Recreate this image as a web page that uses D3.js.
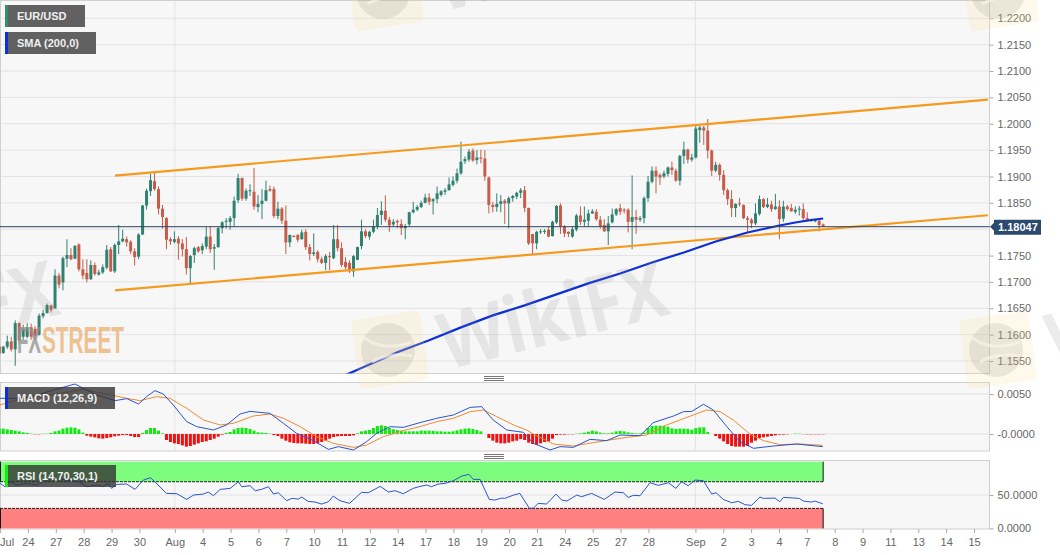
<!DOCTYPE html>
<html>
<head>
<meta charset="utf-8">
<title>EUR/USD</title>
<script src="https://cdn.jsdelivr.net/npm/d3@7/dist/d3.min.js"></script>
<style>
	html, body { margin: 0; padding: 0; background: #fff; }
	svg { display: block; font-family: "Liberation Sans", Arial, sans-serif; }
	.axis text { fill: #666; font-size: 11px; }
	.axis line { stroke: #aaa; }
	.axis path { display: none; }
</style>
</head>
<body>
<div id="chart"></div>
<script>

// candles
var opens = [
	1.1578,1.1565,1.1577,1.1587,1.1572,1.1622,1.1596,1.1596,1.1614,1.1611,
	1.1600,1.1635,1.1641,1.1655,1.1650,1.1712,1.1699,1.1744,1.1751,1.1744,
	1.1771,1.1724,1.1717,1.1705,1.1732,1.1714,1.1718,1.1727,1.1762,1.1720,
	1.1770,1.1777,1.1781,1.1776,1.1758,1.1748,1.1790,1.1845,1.1872,1.1891,
	1.1876,1.1839,1.1821,1.1781,1.1776,1.1782,1.1773,1.1762,1.1726,1.1751,
	1.1766,1.1760,1.1767,1.1786,1.1763,1.1766,1.1802,1.1814,1.1814,1.1821,
	1.1855,1.1897,1.1858,1.1873,1.1871,1.1842,1.1848,1.1854,1.1876,1.1876,
	1.1825,1.1839,1.1816,1.1775,1.1787,1.1789,1.1781,1.1795,1.1766,1.1753,
	1.1757,1.1743,1.1736,1.1749,1.1745,1.1781,1.1764,1.1738,1.1736,1.1720,
	1.1742,1.1768,1.1796,1.1786,1.1795,1.1806,1.1827,1.1835,1.1818,1.1809,
	1.1816,1.1810,1.1802,1.1809,1.1832,1.1837,1.1842,1.1850,1.1860,1.1853,
	1.1857,1.1865,1.1871,1.1874,1.1884,1.1892,1.1906,1.1929,1.1932,1.1949,
	1.1931,1.1936,1.1934,1.1898,1.1846,1.1842,1.1848,1.1854,1.1849,1.1859,
	1.1862,1.1869,1.1874,1.1840,1.1791,1.1773,1.1794,1.1795,1.1799,1.1787,
	1.1813,1.1845,1.1805,1.1795,1.1786,1.1799,1.1826,1.1814,1.1816,1.1830,
	1.1833,1.1818,1.1808,1.1796,1.1813,1.1828,1.1840,1.1837,1.1837,1.1814,
	1.1823,1.1818,1.1821,1.1859,1.1890,1.1911,1.1903,1.1900,1.1905,1.1917,
	1.1911,1.1892,1.1939,1.1951,1.1932,1.1936,1.1988,1.1993,1.1987,1.1949,
	1.1911,1.1922,1.1903,1.1874,1.1857,1.1840,1.1849,1.1846,1.1821,1.1818,
	1.1811,1.1829,1.1857,1.1842,1.1847,1.1838,1.1843,1.1820,1.1843,1.1840,
	1.1833,1.1837,1.1838,1.1821,1.1816,1.1815,1.1816,1.1809
];
var highs = [
	1.1580,1.1579,1.1598,1.1596,1.1627,1.1623,1.1619,1.1622,1.1621,1.1616,
	1.1640,1.1647,1.1659,1.1657,1.1724,1.1717,1.1748,1.1781,1.1764,1.1770,
	1.1773,1.1743,1.1743,1.1741,1.1737,1.1723,1.1733,1.1770,1.1766,1.1773,
	1.1808,1.1799,1.1786,1.1779,1.1764,1.1792,1.1846,1.1877,1.1905,1.1907,
	1.1881,1.1846,1.1823,1.1785,1.1796,1.1787,1.1781,1.1785,1.1751,1.1767,
	1.1768,1.1773,1.1804,1.1805,1.1772,1.1805,1.1815,1.1821,1.1825,1.1862,
	1.1905,1.1898,1.1877,1.1885,1.1916,1.1865,1.1876,1.1892,1.1883,1.1881,
	1.1852,1.1842,1.1845,1.1790,1.1789,1.1791,1.1799,1.1800,1.1772,1.1792,
	1.1760,1.1748,1.1753,1.1757,1.1808,1.1808,1.1775,1.1747,1.1741,1.1751,
	1.1767,1.1818,1.1800,1.1797,1.1818,1.1840,1.1853,1.1864,1.1823,1.1819,
	1.1818,1.1819,1.1810,1.1833,1.1852,1.1846,1.1854,1.1867,1.1868,1.1859,
	1.1881,1.1874,1.1878,1.1898,1.1900,1.1915,1.1966,1.1938,1.1952,1.1953,
	1.1950,1.1951,1.1950,1.1900,1.1852,1.1868,1.1865,1.1857,1.1862,1.1865,
	1.1871,1.1878,1.1882,1.1841,1.1791,1.1797,1.1800,1.1800,1.1805,1.1816,
	1.1846,1.1849,1.1808,1.1796,1.1805,1.1829,1.1843,1.1843,1.1837,1.1838,
	1.1838,1.1825,1.1819,1.1825,1.1839,1.1840,1.1848,1.1840,1.1840,1.1902,
	1.1837,1.1825,1.1862,1.1901,1.1919,1.1919,1.1906,1.1911,1.1919,1.1928,
	1.1915,1.1941,1.1966,1.1953,1.1943,1.1997,1.1996,1.1996,1.2009,1.1951,
	1.1928,1.1925,1.1912,1.1877,1.1874,1.1849,1.1859,1.1847,1.1825,1.1821,
	1.1849,1.1864,1.1859,1.1859,1.1854,1.1867,1.1855,1.1854,1.1846,1.1848,
	1.1843,1.1844,1.1849,1.1832,1.1820,1.1820,1.1821,1.1811
];
var lows = [
	1.1561,1.1564,1.1573,1.1568,1.1541,1.1584,1.1590,1.1593,1.1590,1.1590,
	1.1598,1.1631,1.1640,1.1642,1.1649,1.1688,1.1684,1.1728,1.1741,1.1743,
	1.1720,1.1705,1.1699,1.1704,1.1712,1.1712,1.1715,1.1724,1.1719,1.1717,
	1.1753,1.1775,1.1767,1.1753,1.1731,1.1743,1.1789,1.1837,1.1863,1.1873,
	1.1828,1.1801,1.1762,1.1770,1.1773,1.1742,1.1748,1.1714,1.1696,1.1736,
	1.1755,1.1753,1.1762,1.1755,1.1723,1.1765,1.1792,1.1801,1.1799,1.1805,
	1.1850,1.1854,1.1854,1.1863,1.1837,1.1832,1.1819,1.1853,1.1871,1.1821,
	1.1819,1.1810,1.1753,1.1766,1.1785,1.1775,1.1780,1.1761,1.1741,1.1749,
	1.1737,1.1734,1.1722,1.1722,1.1743,1.1758,1.1728,1.1724,1.1717,1.1710,
	1.1741,1.1762,1.1783,1.1780,1.1792,1.1800,1.1808,1.1814,1.1795,1.1805,
	1.1802,1.1789,1.1781,1.1806,1.1830,1.1834,1.1840,1.1849,1.1846,1.1828,
	1.1849,1.1862,1.1865,1.1873,1.1881,1.1887,1.1903,1.1924,1.1928,1.1928,
	1.1923,1.1925,1.1892,1.1830,1.1832,1.1833,1.1832,1.1810,1.1802,1.1852,
	1.1857,1.1859,1.1832,1.1770,1.1753,1.1762,1.1791,1.1791,1.1785,1.1786,
	1.1810,1.1791,1.1785,1.1785,1.1784,1.1796,1.1808,1.1805,1.1805,1.1829,
	1.1816,1.1801,1.1795,1.1770,1.1811,1.1825,1.1827,1.1830,1.1794,1.1762,
	1.1791,1.1814,1.1811,1.1852,1.1887,1.1868,1.1884,1.1897,1.1900,1.1903,
	1.1890,1.1883,1.1924,1.1925,1.1928,1.1934,1.1964,1.1960,1.1934,1.1901,
	1.1908,1.1892,1.1865,1.1846,1.1823,1.1823,1.1843,1.1819,1.1794,1.1802,
	1.1808,1.1826,1.1840,1.1840,1.1833,1.1837,1.1781,1.1814,1.1835,1.1833,
	1.1829,1.1826,1.1814,1.1815,1.1814,1.1813,1.1796,1.1804
];
var closes = [
	1.1564,1.1577,1.1587,1.1572,1.1622,1.1589,1.1611,1.1614,1.1596,1.1598,
	1.1636,1.1641,1.1656,1.1647,1.1712,1.1695,1.1745,1.1751,1.1743,1.1768,
	1.1724,1.1712,1.1705,1.1732,1.1715,1.1718,1.1728,1.1761,1.1720,1.1770,
	1.1777,1.1782,1.1775,1.1758,1.1747,1.1790,1.1845,1.1873,1.1893,1.1876,
	1.1839,1.1823,1.1780,1.1777,1.1781,1.1773,1.1762,1.1726,1.1749,1.1764,
	1.1758,1.1768,1.1786,1.1762,1.1766,1.1802,1.1813,1.1816,1.1821,1.1854,
	1.1897,1.1858,1.1873,1.1874,1.1843,1.1848,1.1854,1.1874,1.1873,1.1825,
	1.1839,1.1816,1.1775,1.1789,1.1786,1.1780,1.1794,1.1766,1.1753,1.1756,
	1.1743,1.1736,1.1749,1.1748,1.1781,1.1764,1.1732,1.1728,1.1720,1.1749,
	1.1766,1.1796,1.1787,1.1795,1.1806,1.1827,1.1835,1.1818,1.1807,1.1814,
	1.1813,1.1802,1.1806,1.1832,1.1837,1.1842,1.1850,1.1860,1.1852,1.1857,
	1.1868,1.1872,1.1874,1.1885,1.1892,1.1906,1.1928,1.1933,1.1947,1.1930,
	1.1936,1.1934,1.1900,1.1846,1.1842,1.1848,1.1853,1.1849,1.1859,1.1863,
	1.1869,1.1874,1.1840,1.1773,1.1773,1.1795,1.1796,1.1797,1.1786,1.1814,
	1.1844,1.1806,1.1792,1.1791,1.1800,1.1826,1.1814,1.1818,1.1830,1.1834,
	1.1819,1.1806,1.1796,1.1811,1.1828,1.1838,1.1833,1.1835,1.1814,1.1823,
	1.1818,1.1821,1.1859,1.1890,1.1911,1.1900,1.1898,1.1906,1.1917,1.1912,
	1.1892,1.1939,1.1951,1.1932,1.1936,1.1991,1.1993,1.1987,1.1949,1.1911,
	1.1922,1.1903,1.1874,1.1857,1.1840,1.1848,1.1848,1.1821,1.1818,1.1811,
	1.1830,1.1857,1.1842,1.1847,1.1838,1.1843,1.1819,1.1843,1.1838,1.1834,
	1.1837,1.1839,1.1821,1.1816,1.1818,1.1818,1.1808,1.1805
];

var lastPrice = 1.18047;
var lastPriceText = '1.18047';

// 200 period sma, candle index and price
var smaIndex = [84,92,100,108,116,124,132,140,148,156,164,172,176,180,184,188,192,196,200,204,207];
var smaValues = [1.15134,1.15400,1.15665,1.15892,1.16138,1.16365,1.16555,1.16763,1.16972,1.17161,1.17369,1.17559,1.17663,1.17767,1.17852,1.17937,1.18004,1.18070,1.18127,1.18174,1.18203];

// hand drawn channel
var trendIndex = [29.07,248.4];
var trendUpper = [1.19017,1.20456];
var trendLower = [1.16839,1.18265];

// macd, in units of 0.0001
var macdIndex = [0.2,4.4,8.6,13.6,19,24.5,29.1,32,35,37,39.1,41.2,43.7,47.1,49.6,53.8,57.1,60.5,63,68,71.4,74.7,78.9,82.7,85.2,89,92.3,94.8,98.2,101.5,105.7,109.9,114.1,118.3,121.2,124.1,127.5,131.7,134.2,138.4,140.9,144.2,148.4,152.6,156,161,164.3,169.4,171.9,174,176.9,179.4,182.8,186.1,189.5,194.5,200.3,206.9];
var macdValues = [44.6,44.6,47.5,55,62.5,48.8,41.7,44.2,37.5,46.7,54.2,50,36.3,15.4,9.2,5,11.3,25,28.3,25.8,13.3,0.8,-8.3,-19.2,-15.8,-20,-9.6,0.8,9.2,8.3,14.2,19.6,23.8,33.3,34.2,17.5,5,2.1,-11.7,-20,-15.8,-16.7,-6.7,-8.3,-1.3,-2.1,14.2,22.5,27.9,28.3,37.1,30,9.2,-9.6,-17.9,-15,-12.5,-15.8];
var signalIndex = [0.2,4.4,10.2,15.3,21.1,26.1,32,35.4,39.5,42.9,47.1,51.3,55.5,58.8,63.8,68,71.4,75.6,79.7,83.9,89,92.3,96.5,101.5,105.7,109.9,114.1,118.3,121.6,125,129.2,132.5,134.6,139.2,144.2,149.3,153.4,157.6,162.6,167.7,174.4,177.7,181.1,184.4,188.6,192,196.2,201.2,206.9];
var signalValues = [36.3,42.5,46.7,50.8,55.8,50.8,44.6,41.7,46.7,44.6,32.1,17.5,11.3,13.3,22.5,25,19.6,9.2,-3.3,-11.7,-16.7,-13.8,-3.3,4.2,9.2,15.4,19.6,27.9,30,21.7,11.3,5,-1.3,-12.5,-15,-10.8,-7.5,-4.2,-1.3,11.3,23.8,30,27.9,17.5,0,-8.3,-13.3,-12.5,-14.2];
var histValues = [
	6.7,6.7,5.8,5,4.2,3.3,2.1,1.3,0.4,-0.4,
	-0.4,0.4,0.4,1.3,3.3,4.2,6.7,7.9,8.3,7.9,
	5.8,1.7,-2.1,-3.3,-4.2,-5.4,-5.8,-5,-4.2,-2.9,
	-2.1,-1.3,-1.3,-2.5,-3.8,-3.8,1.3,5,7.5,7.5,
	4.2,0.8,-7.5,-10,-11.7,-12.5,-14.2,-15.8,-15,-13.3,
	-11.7,-10,-9.2,-7.5,-5.8,-3.3,-0.8,1.3,2.5,5.8,
	7.5,7.9,7.5,6.3,4.2,2.1,1.7,1.3,0.4,-1.3,
	-2.5,-5.8,-8.3,-10.4,-11.3,-11.7,-11.7,-12.1,-12.5,-12.5,
	-11.7,-10,-8.3,-5.8,-3.8,-2.9,-2.5,-2.5,-2.5,-1.7,
	0.8,3.3,4.2,5,7.5,10,10.8,10,7.5,5.8,
	5,4.2,3.3,3.3,3.3,3.3,4.2,4.2,4.2,3.8,
	3.3,3.3,2.9,2.9,3.3,4.6,5.8,6.7,7.1,6.3,
	5,3.3,0,-5,-8.3,-10.8,-11.7,-11.7,-10.8,-9.2,
	-8.3,-6.3,-7.5,-10.8,-12.5,-13.3,-11.7,-10,-9.2,-5.8,
	-1.3,-0.8,-0.8,-0.4,-0.4,0.4,0.8,1.7,2.9,4.2,
	3.3,1.7,0.8,0.8,1.7,3.3,3.8,3.3,2.1,1.3,
	0.8,0.8,1.7,7.5,10,10.4,10.4,10.4,9.2,7.1,
	6.3,6.7,6.7,6.3,5.4,7.5,8.3,8.3,2.5,0,
	-2.5,-5.8,-9.2,-12.5,-15,-15.8,-15.8,-15.8,-15,-10.8,
	-8.3,-5,-4.2,-3.3,-2.5,-1.7,-0.8,-0.8,-0.4,0,
	0.4,0.4,-0.2,-0.4,-0.4,-0.4,-0.4,-0.4
];

// rsi
var rsiIndex = [0.2,1.4,2.7,4.4,6.9,9.4,11.1,13.6,16.9,19.9,22,24.5,26.1,27.4,28.2,29.5,32,34.1,36.2,38,39.5,42,44.6,47.1,48.8,51.3,52.5,53.8,55.5,58,60.1,60.9,63,64.3,65.9,67.6,68.9,70.1,72.2,73.5,75.1,76,77.6,79.3,81,82.7,83.9,85.6,88,91,92.7,95.7,97.8,99.4,101.5,104,105.7,107.4,108.6,110.3,112,114.1,116.2,118,119.1,120.8,123.1,124.5,126.2,127,129.2,130.8,133.2,134.2,135.4,137.5,139.9,141.3,142.6,145.1,146.3,148.8,152,154.7,156.8,158,159.3,161,163.5,165.6,168.1,170,171.4,173.1,174.8,176.9,179,180.1,181.9,184,185.7,187.4,189,191.1,192,194.9,196.1,197,201,202,204.1,204.9,206.9];
var rsiValues = [67.5,62.5,70,65,67.5,65,70,75,72.5,70,62.5,65,62.5,67.5,60,66,66.5,58.5,72.5,76,67.5,52.5,52,43.5,50,51.5,54.5,49,58.5,60,70,62.5,64,56.5,58.5,62.5,51.5,53.5,41.5,45,44,47,40.5,39.5,36.5,40,48.5,41.5,37.5,54,53.5,63,54.5,56.5,52,60,63,65,62.5,66.5,67.5,71.5,78.5,81,73.5,73.5,43.5,42.5,45.5,45,50,52.5,30,30.5,37.5,36.5,51.5,42.5,41,50,47.5,52.5,43.5,54.5,53.5,46.5,49.5,49,68.5,64.5,68.5,60,70,64,72.5,71.5,51.5,53.5,43.5,38.5,40.5,35.5,34.5,47,45,45.5,40,46.5,45,41,39.5,41,37];

// axis labels
var priceGrid = [1.22,1.215,1.21,1.205,1.2,1.195,1.19,1.185,1.18,1.175,1.17,1.165,1.16,1.155];
// 1.1800 sits under the last price tag, so it has no label
var priceTicks = [1.22,1.215,1.21,1.205,1.2,1.195,1.19,1.185,1.175,1.17,1.165,1.16,1.155];
var macdTicks = [0.005,0];
var macdTickLabels = ['0.0050','-0.0000'];
var rsiTicks = [50,0];
var rsiTickLabels = ['50.0000','0.0000'];
var timeTickIndex = [0.2,7.2,14.2,21.2,28.2,35.2,44.1,51.1,58.1,65.1,72.1,79.1,86.1,93.1,100.1,107.1,114.1,121.1,128.1,135.1,142.1,149.1,156.1,163.1,174.9,181.9,188.9,195.9,202.9,209.9,216.9,223.9,230.9,237.9,244.9];
var timeTickLabels = ['Jul','24','27','28','29','30','Aug','4','5','6','7','10','11','12','14','17','18','19','20','21','24','25','27','28','Sep','2','3','4','7','8','9','11','13','14','15'];
var monthIndex = [44.1,174.9];

var candleUp = '#2f8170';
var candleDown = '#c65c49';
var panelRight = 989.5;
var panels = {
	price: {top: 0.5, bottom: 373.5},
	macd: {top: 382.5, bottom: 451},
	rsi: {top: 460.5, bottom: 529}
};

var candles = opens.map(function(d, i) {
	return {i: i, open: d, high: highs[i], low: lows[i], close: closes[i]};
});

drawChart();

function drawChart() {
	var svg = d3.select('#chart').append('svg')
		.attr('width', 1060)
		.attr('height', 555);

	var x = d3.scaleLinear().domain([0, 248]).range([-0.7, -0.7 + 3.98 * 248]);
	var y = d3.scaleLinear().domain([1.22, 1.155]).range([18.3, 361]);
	var yMacd = d3.scaleLinear().domain([0.005, 0]).range([394, 434]);
	var yRsi = d3.scaleLinear().domain([100, 0]).range([461.7, 528.4]);

	// panel backgrounds and clips
	Object.keys(panels).forEach(function(name) {
		var p = panels[name];
		svg.append('rect')
			.attr('x', 0.5)
			.attr('y', p.top)
			.attr('width', panelRight - 0.5)
			.attr('height', p.bottom - p.top)
			.style('fill', '#f7f7f7')
			.style('stroke', '#cfcfcf');
		svg.append('clipPath').attr('id', 'clip-' + name).append('rect')
			.attr('x', 0)
			.attr('y', p.top)
			.attr('width', panelRight)
			.attr('height', p.bottom - p.top);
	});

	drawGrid(svg, y, priceGrid);
	drawGrid(svg, yMacd, macdTicks);
	drawGrid(svg, yRsi, rsiTicks);

	// month separators
	Object.keys(panels).forEach(function(name) {
		var p = panels[name];
		svg.append('g').selectAll('line').data(monthIndex).enter().append('line')
			.attr('x1', function(d) { return x(d); })
			.attr('x2', function(d) { return x(d); })
			.attr('y1', p.top)
			.attr('y2', p.bottom)
			.style('stroke', '#e2e2e2');
	});

	drawCandles(svg, x, y);
	drawOverlays(svg, x, y);
	drawMacd(svg, x, yMacd);
	drawRsi(svg, x, yRsi);
	drawAxes(svg, x, y, yMacd, yRsi);
	drawPriceTag(svg, y);
	drawHandles(svg);
	drawWatermarks(svg);

	drawLegend(svg, 5, 5, 80, 'EUR/USD', '#2f8f75', '#616161', 1);
	drawLegend(svg, 5, 32, 91, 'SMA (200,0)', '#0b2fd8', '#616161', 1);
	drawLegend(svg, 5, 387, 110, 'MACD (12,26,9)', '#0b2fd8', '#333', 0.8);
	drawLegend(svg, 5, 465, 111, 'RSI (14,70,30,1)', '#11ee11', '#333', 0.8);
}

function drawGrid(svg, scale, ticks) {
	svg.append('g').selectAll('line').data(ticks).enter().append('line')
		.attr('x1', 1)
		.attr('x2', panelRight)
		.attr('y1', function(d) { return scale(d); })
		.attr('y2', function(d) { return scale(d); })
		.style('stroke', '#e3e3e3');
}

function drawCandles(svg, x, y) {
	var g = svg.append('g').attr('clip-path', 'url(#clip-price)');
	var c = g.selectAll('.candle').data(candles).enter().append('g').attr('class', 'candle');

	c.append('line')
		.attr('x1', function(d) { return x(d.i); })
		.attr('x2', function(d) { return x(d.i); })
		.attr('y1', function(d) { return y(d.high); })
		.attr('y2', function(d) { return y(d.low); })
		.style('stroke', candleColor)
		.style('stroke-width', 1);

	c.append('rect')
		.attr('x', function(d) { return x(d.i) - 1.5; })
		.attr('width', 3)
		.attr('y', function(d) { return y(Math.max(d.open, d.close)); })
		.attr('height', function(d) { return Math.max(1, Math.abs(y(d.open) - y(d.close))); })
		.style('fill', candleColor);
}

function candleColor(d) {
	return d.close >= d.open ? candleUp : candleDown;
}

function drawOverlays(svg, x, y) {
	var g = svg.append('g').attr('clip-path', 'url(#clip-price)');
	var line = d3.line()
		.x(function(d) { return x(d[0]); })
		.y(function(d) { return y(d[1]); });

	[trendUpper, trendLower].forEach(function(values) {
		g.append('path')
			.attr('d', line(d3.zip(trendIndex, values)))
			.style('fill', 'none')
			.style('stroke', '#f59a1c')
			.style('stroke-width', 2.2);
	});

	g.append('path')
		.attr('d', line(d3.zip(smaIndex, smaValues)))
		.style('fill', 'none')
		.style('stroke', '#0b2fd8')
		.style('stroke-width', 2.2);

	// last price line
	svg.append('line')
		.attr('x1', 0)
		.attr('x2', panelRight)
		.attr('y1', y(lastPrice))
		.attr('y2', y(lastPrice))
		.style('stroke', '#2b3f5c')
		.style('stroke-width', 1);
}

function drawPriceTag(svg, y) {
	var ty = y(lastPrice);
	svg.append('path')
		.attr('d', 'M990,' + ty + 'L994,' + (ty - 4) + 'V' + (ty - 7) + 'H1041V' + (ty + 8) + 'H994V' + (ty + 4) + 'Z')
		.style('fill', '#2c4a70');
	svg.append('text')
		.attr('x', 998)
		.attr('y', ty + 4.5)
		.style('fill', '#fff')
		.style('font-size', '11px')
		.style('font-weight', 'bold')
		.text(lastPriceText);
}

function drawMacd(svg, x, y) {
	var unit = 0.0001;
	var g = svg.append('g').attr('clip-path', 'url(#clip-macd)');

	g.selectAll('.hist').data(histValues).enter().append('rect')
		.attr('class', 'hist')
		.attr('x', function(d, i) { return x(i) - 1.5; })
		.attr('width', 3)
		.attr('y', function(d) { return y(Math.max(d, 0) * unit); })
		.attr('height', function(d) { return Math.abs(y(d * unit) - y(0)); })
		.style('fill', function(d) { return d >= 0 ? '#13e813' : '#f01010'; });

	var line = d3.line()
		.x(function(d) { return x(d[0]); })
		.y(function(d) { return y(d[1] * unit); });

	g.append('path')
		.attr('d', line(d3.zip(signalIndex, signalValues)))
		.style('fill', 'none')
		.style('stroke', '#ee8a33')
		.style('stroke-width', 1);

	g.append('path')
		.attr('d', line(d3.zip(macdIndex, macdValues)))
		.style('fill', 'none')
		.style('stroke', '#2a54cc')
		.style('stroke-width', 1);
}

function drawRsi(svg, x, y) {
	var g = svg.append('g').attr('clip-path', 'url(#clip-rsi)');
	var end = x(candles.length - 1);

	// overbought and oversold bands
	[[100, 70, '#7dfc7d'], [30, 0, '#ff8080']].forEach(function(b) {
		g.append('rect')
			.attr('x', 0)
			.attr('width', end)
			.attr('y', y(b[0]))
			.attr('height', y(b[1]) - y(b[0]))
			.style('fill', b[2]);
		g.append('line')
			.attr('x1', end).attr('x2', end)
			.attr('y1', y(b[0])).attr('y2', y(b[1]))
			.style('stroke', '#111');
		g.append('line')
			.attr('x1', 0.5).attr('x2', 0.5)
			.attr('y1', y(b[0])).attr('y2', y(b[1]))
			.style('stroke', '#111');
	});

	[70, 30].forEach(function(level) {
		g.append('line')
			.attr('x1', 0)
			.attr('x2', end)
			.attr('y1', y(level))
			.attr('y2', y(level))
			.style('stroke', '#222')
			.style('stroke-dasharray', '3,1');
	});

	var line = d3.line()
		.x(function(d) { return x(d[0]); })
		.y(function(d) { return y(d[1]); });

	g.append('path')
		.attr('d', line(d3.zip(rsiIndex, rsiValues)))
		.style('fill', 'none')
		.style('stroke', '#2a54cc')
		.style('stroke-width', 1);
}

function drawAxes(svg, x, y, yMacd, yRsi) {
	function rightAxis(scale, ticks, fmt) {
		var axis = d3.axisRight(scale).tickValues(ticks).tickSize(4).tickPadding(4).tickFormat(fmt);
		svg.append('g')
			.attr('class', 'axis')
			.attr('transform', 'translate(' + panelRight + ',0)')
			.call(axis);
	}

	rightAxis(y, priceTicks, d3.format('.4f'));
	rightAxis(yMacd, macdTicks, function(d, i) { return macdTickLabels[i]; });
	rightAxis(yRsi, rsiTicks, function(d, i) { return rsiTickLabels[i]; });

	var timeAxis = d3.axisBottom(x)
		.tickValues(timeTickIndex)
		.tickSize(4)
		.tickPadding(5)
		.tickFormat(function(d, i) { return timeTickLabels[i]; });

	var g = svg.append('g')
		.attr('class', 'axis')
		.attr('transform', 'translate(0,' + panels.rsi.bottom + ')')
		.call(timeAxis);

	// first label would be cut off by the page edge
	g.select('.tick text').attr('text-anchor', 'start').attr('x', -0.5);
}

function drawHandles(svg) {
	[376.5, 454.5].forEach(function(top) {
		[0, 2, 4].forEach(function(dy) {
			svg.append('line')
				.attr('x1', 484)
				.attr('x2', 504)
				.attr('y1', top + dy)
				.attr('y2', top + dy)
				.style('stroke', '#777');
		});
	});
}

function drawWatermarks(svg) {
	var g = svg.append('g').style('pointer-events', 'none');
	[[-610, 0], [0, 0], [608, 0], [-5, -358], [610, -358]].forEach(function(t) {
		var w = g.append('g').attr('transform', 'translate(' + t[0] + ',' + t[1] + ')');

		w.append('rect')
			.attr('x', 355)
			.attr('y', 315)
			.attr('width', 70)
			.attr('height', 70)
			.attr('rx', 6)
			.attr('transform', 'rotate(-8 390 350)')
			.style('fill', '#fbdf94')
			.style('opacity', 0.2);

		w.append('circle')
			.attr('cx', 388)
			.attr('cy', 350)
			.attr('r', 27)
			.style('fill', '#8d8484')
			.style('opacity', 0.16);

		w.append('path')
			.attr('d', 'M364,338 Q385,352 412,342 M372,362 Q390,352 412,356')
			.style('fill', 'none')
			.style('stroke', '#f8f4e8')
			.style('stroke-width', 3)
			.style('opacity', 0.7);

		w.append('text')
			.attr('transform', 'translate(447,370) rotate(-14)')
			.attr('textLength', 232)
			.attr('lengthAdjust', 'spacingAndGlyphs')
			.style('font-family', '"Open Sans", sans-serif')
			.style('font-weight', 'bold')
			.style('font-size', '78px')
			.style('fill', '#8d8484')
			.style('opacity', 0.15)
			.text('WikiFX');
	});

	// fxstreet mark
	g.append('text')
		.attr('x', 17)
		.attr('y', 353)
		.attr('textLength', 24)
		.attr('lengthAdjust', 'spacingAndGlyphs')
		.style('font-family', '"Liberation Sans Narrow", "Liberation Sans", sans-serif')
		.style('font-weight', 'bold')
		.style('font-size', '36px')
		.style('fill', '#8f8f8f')
		.style('opacity', 0.75)
		.text('FX');
	g.append('text')
		.attr('x', 42)
		.attr('y', 353)
		.attr('textLength', 82)
		.attr('lengthAdjust', 'spacingAndGlyphs')
		.style('font-family', '"Liberation Sans Narrow", "Liberation Sans", sans-serif')
		.style('font-weight', 'bold')
		.style('font-size', '36px')
		.style('fill', '#eab071')
		.style('opacity', 0.75)
		.text('STREET');
}

function drawLegend(svg, lx, ly, width, label, accent, fill, opacity) {
	svg.append('rect')
		.attr('x', lx)
		.attr('y', ly)
		.attr('width', width)
		.attr('height', 22)
		.style('fill', fill)
		.style('opacity', opacity);
	svg.append('rect')
		.attr('x', lx)
		.attr('y', ly)
		.attr('width', 3)
		.attr('height', 22)
		.style('fill', accent);
	svg.append('text')
		.attr('x', lx + 12)
		.attr('y', ly + 15)
		.style('fill', '#f0f0f0')
		.style('font-size', '11px')
		.style('font-weight', 'bold')
		.text(label);
}

</script>
</body>
</html>
